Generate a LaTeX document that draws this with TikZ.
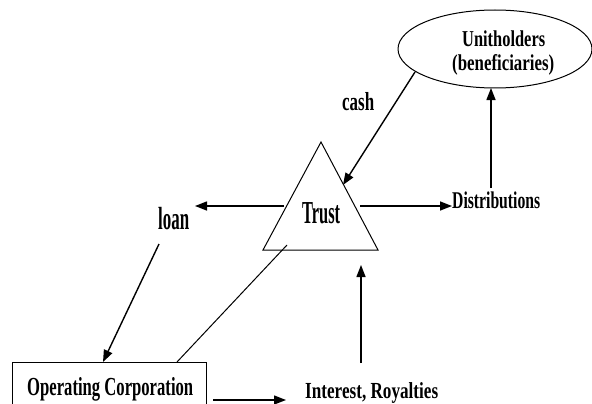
\documentclass[tikz,border=0pt]{standalone}
\usepackage{fontspec}
\setmainfont{Liberation Serif}
\usepackage{graphicx}
\usetikzlibrary{arrows.meta}
\newcommand\sqtxt[3]{{\fontsize{#1}{#1}\selectfont\bfseries\resizebox{#2pt}{\height}{#3}}}
\begin{document}
\begin{tikzpicture}[x=1pt,y=-1pt,
  shapeline/.style={line width=1pt},
  conn/.style={line width=1.4pt,-{Triangle[length=12pt,width=9pt]}},
  plainconn/.style={line width=1pt},
  lbl/.style={anchor=base west,inner sep=0pt}]
\useasboundingbox (0,0) rectangle (592,404);
% shapes
\draw[shapeline] (495,49) ellipse [x radius=97,y radius=39];
\coordinate (ell) at (495,49);
\coordinate (tA) at (321,142);
\coordinate (tL) at (263,250);
\coordinate (tR) at (378,250);
\draw[shapeline] (tA) -- (tL) -- (tR) -- cycle;
\draw[shapeline] (12,404) -- (12,362) -- (206,362) -- (206,404);
% texts
\node[lbl] (unit) at (462,47) {\sqtxt{22.7}{83}{Unitholders}};
\node[lbl] (benef) at (452,71) {\sqtxt{22.7}{102}{(beneficiaries)}};
\node[lbl] (cash) at (342,110) {\sqtxt{26}{32}{cash}};
\node[lbl] (loan) at (158,229) {\sqtxt{32}{31}{loan}};
\node[lbl] (trust) at (302,223) {\sqtxt{32}{38}{Trust}};
\node[lbl] (dist) at (452,208) {\sqtxt{24}{88}{Distributions}};
\node[lbl] (opco) at (27,395) {\sqtxt{26}{166}{Operating Corporation}};
\node[lbl] (int) at (305,398) {\sqtxt{23}{133}{Interest, Royalties}};
% connector end points
\coordinate (cashS) at (415,72);
\coordinate (cashE) at (343,185);
\coordinate (distTop) at (491,188);
\coordinate (ellBot) at (491,88);
\coordinate (trL) at (284,206);
\coordinate (loanR) at (195,206);
\coordinate (trR) at (360,206);
\coordinate (distL) at (452,206);
\coordinate (loanB) at (159,244);
\coordinate (boxT) at (103,362);
\coordinate (trIn) at (287,245);
\coordinate (boxT2) at (177,362);
\coordinate (boxR) at (213,400);
\coordinate (intL) at (286,400);
\coordinate (intT) at (361,363);
\coordinate (trB) at (361,265);
% connectors
\draw[conn] (cashS) -- (cashE);
\draw[conn] (distTop) -- (ellBot);
\draw[conn] (trL) -- (loanR);
\draw[conn] (trR) -- (distL);
\draw[conn] (loanB) -- (boxT);
\draw[plainconn] (trIn) -- (boxT2);
\draw[conn] (boxR) -- (intL);
\draw[conn] (intT) -- (trB);
\end{tikzpicture}
\end{document}
